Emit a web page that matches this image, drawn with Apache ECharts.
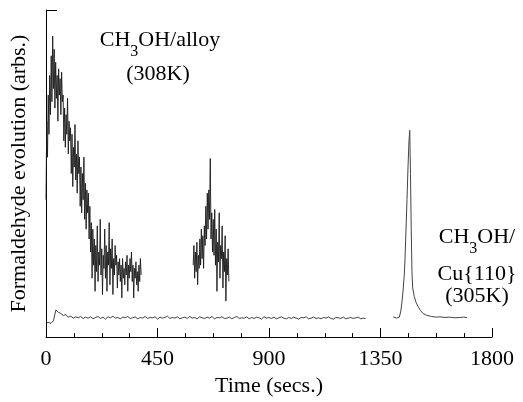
<!DOCTYPE html>
<html>
<head>
<meta charset="utf-8">
<script src="https://cdn.jsdelivr.net/npm/echarts@6/dist/echarts.min.js"></script>
<style>html,body{margin:0;padding:0;background:#fff}#c{width:523px;height:402px}</style>
</head>
<body>
<div id="c"></div>
<script>
// ---- data (arbitrary units, 0..100 = axis range) ----
var xTicks = [0, 450, 900, 1350, 1800];
var xTitle = 'Time (secs.)';
var yTitle = 'Formaldehyde evolution (arbs.)';

// CH3OH/alloy, first run: sampled every 3 s from t = 0
var alloyA_t0 = 0, alloyA_dt = 3;
var alloyA = [42,66,55,74,62,80,68,86,72,92,76,88,70,84,73,80,66,82,74,79,
  68,81,72,74,60,70,58,68,62,73,56,66,60,64,50,62,46,58,52,65,
  48,56,44,60,50,55,40,52,38,50,42,55,36,47,33,45,38,44,30,40,
  26,35,18,33,22,30,14,28,20,34,17,26,22,36,19,27,13,25,21,33,
  18,28,14,26,22,35,16,27,21,30,13,24,19,28,22,25,15,23,19,24,
  17,22,12,24,18,21,16,23,19,25,14,22,18,24,20,26,17,22,12,21,
  18,23,16,20,14,22,17,24,19];

// CH3OH/alloy, second run: sampled every 3 s from t = 594
var alloyB_t0 = 594, alloyB_dt = 3;
var alloyB = [22,28,18,26,20,29,16,25,21,30,22,33,24,31,21,34,28,40,30,44,
  33,45,36,54.6,30,38,26,36,25,39,22,33,14,29,23,38,18,28,24,34,
  15,26,20,31,11,24,19,27,17];

// background trace: sampled every 10 s from t = 0
var base_t0 = 0, base_dt = 10;
var baseline = [4.3,4.5,4.2,5.0,8.3,7.6,7.2,6.6,6.9,6.1,6.4,5.8,6.2,5.9,6.3,5.7,6.1,5.8,6.2,5.6,
  6.0,6.3,5.7,6.1,5.5,6.2,5.9,6.4,5.8,6.0,5.6,6.1,5.9,6.3,5.7,5.9,6.2,5.6,6.0,5.8,
  6.3,5.7,6.0,5.9,6.2,5.5,6.1,5.8,6.0,6.4,5.7,6.0,5.8,6.2,5.6,5.9,6.1,5.7,6.3,5.8,
  6.0,5.6,6.2,5.9,5.7,6.1,5.8,6.3,5.6,6.0,5.9,6.2,5.7,5.8,6.1,5.6,6.0,6.3,5.7,5.9,
  5.8,6.2,5.6,6.0,5.7,6.1,5.9,5.5,6.2,5.8,6.0,5.7,6.1,5.6,5.9,6.2,5.8,5.6,6.0,5.7,
  6.1,5.8,5.5,6.0,5.9,6.2,5.6,5.8,6.1,5.7,5.9,5.6,6.0,5.8,6.2,5.7,5.5,6.0,5.9,5.7,
  6.1,5.6,5.8,6.0,5.7,5.9,6.1,5.6,5.8,5.7];

// CH3OH/Cu{110}
var cuTime = [1401,1408,1414,1420,1426,1432,1437,1442,1446,1449,1453,1457,1461,1465,1468,
  1471,1474,1477,1480,1486,1494,1502,1512,1522,1535,1556,1575,1590,1610,1630,1650,1670,1685,1699];
var cuVal  = [6.2,6.0,5.8,5.6,6.1,8.0,11,15,19,24,33,42,52,60,63.2,
  50,33,20,15,12.5,10.5,9.3,8.1,7.2,6.7,6.3,6.1,6.2,6.0,6.1,5.9,6.0,6.1,6.0];

function sampled(t0, dt, vals){ return vals.map(function(v,i){ return [t0 + i*dt, v]; }); }
function paired(ts, vs){ return ts.map(function(t,i){ return [t, vs[i]]; }); }

var FONT = 'Liberation Serif';
var MAIN = 22, SUB = 16;
var ctx = document.createElement('canvas').getContext('2d');
function tw(s, size){ ctx.font = size + 'px "' + FONT + '"'; return ctx.measureText(s).width; }

// text with a subscript: pre + sub + post, centered at cx, box top at y
function subText(cx, y, pre, sub, post){
  var w1 = tw(pre, MAIN), w2 = tw(sub, SUB), w3 = tw(post, MAIN);
  var x0 = cx - (w1 + w2 + w3) / 2;
  var st = {fontFamily:FONT, fill:'#000', verticalAlign:'top', align:'left'};
  return [
    {type:'text', x:x0, y:y, style:Object.assign({text:pre, fontSize:MAIN}, st)},
    {type:'text', x:x0 + w1, y:y + 15, style:Object.assign({text:sub, fontSize:SUB}, st)},
    {type:'text', x:x0 + w1 + w2, y:y, style:Object.assign({text:post, fontSize:MAIN}, st)}
  ];
}
function plainText(cx, y, s){
  return {type:'text', x:cx, y:y, style:{text:s, fontFamily:FONT, fontSize:MAIN, fill:'#000', align:'center', verticalAlign:'top'}};
}

var chart = echarts.init(document.getElementById('c'), null, {renderer:'canvas'});
function lineSeries(data, color, w){
  return {type:'line', data:data, showSymbol:false, symbol:'none', animation:false,
    lineStyle:{color:color, width:w}, emphasis:{disabled:true}};
}
var graphics = []
  .concat(subText(160, 29, 'CH', '3', 'OH/alloy'))
  .concat([plainText(158, 63, '(308K)')])
  .concat(subText(477, 226, 'CH', '3', 'OH/'))
  .concat([plainText(477, 263, 'Cu{110}'), plainText(477, 285, '(305K)')]);

chart.setOption({
  animation:false,
  backgroundColor:'#fff',
  grid:{left:46, right:31, top:10, bottom:58, containLabel:false},
  xAxis:{type:'value', min:0, max:1800, interval:450,
    axisLine:{lineStyle:{color:'#000', width:1}},
    axisTick:{inside:true, length:9, lineStyle:{color:'#000'}},
    minorTick:{show:true, splitNumber:4, length:4, lineStyle:{color:'#000'}},
    splitLine:{show:false}, minorSplitLine:{show:false},
    axisLabel:{color:'#000', fontFamily:FONT, fontSize:22, margin:11,
      formatter:function(v){ return xTicks.indexOf(v) >= 0 ? String(v) : ''; }},
    name:xTitle, nameLocation:'middle', nameGap:35,
    nameTextStyle:{color:'#000', fontFamily:FONT, fontSize:22}
  },
  yAxis:{type:'value', min:0, max:100, interval:100,
    axisLine:{show:true, lineStyle:{color:'#000', width:1}},
    axisTick:{show:true, inside:true, length:11, lineStyle:{color:'#000'}},
    axisLabel:{show:false}, splitLine:{show:false},
    name:yTitle, nameLocation:'middle', nameGap:16, nameRotate:90,
    nameTextStyle:{color:'#000', fontFamily:FONT, fontSize:22}
  },
  series:[
    lineSeries(sampled(alloyA_t0, alloyA_dt, alloyA), '#1a1a1a', 0.9),
    lineSeries(sampled(alloyB_t0, alloyB_dt, alloyB), '#1a1a1a', 0.9),
    lineSeries(sampled(base_t0, base_dt, baseline), '#111', 0.8),
    lineSeries(paired(cuTime, cuVal), '#444', 1)
  ],
  graphic:graphics
});
</script>
</body>
</html>
